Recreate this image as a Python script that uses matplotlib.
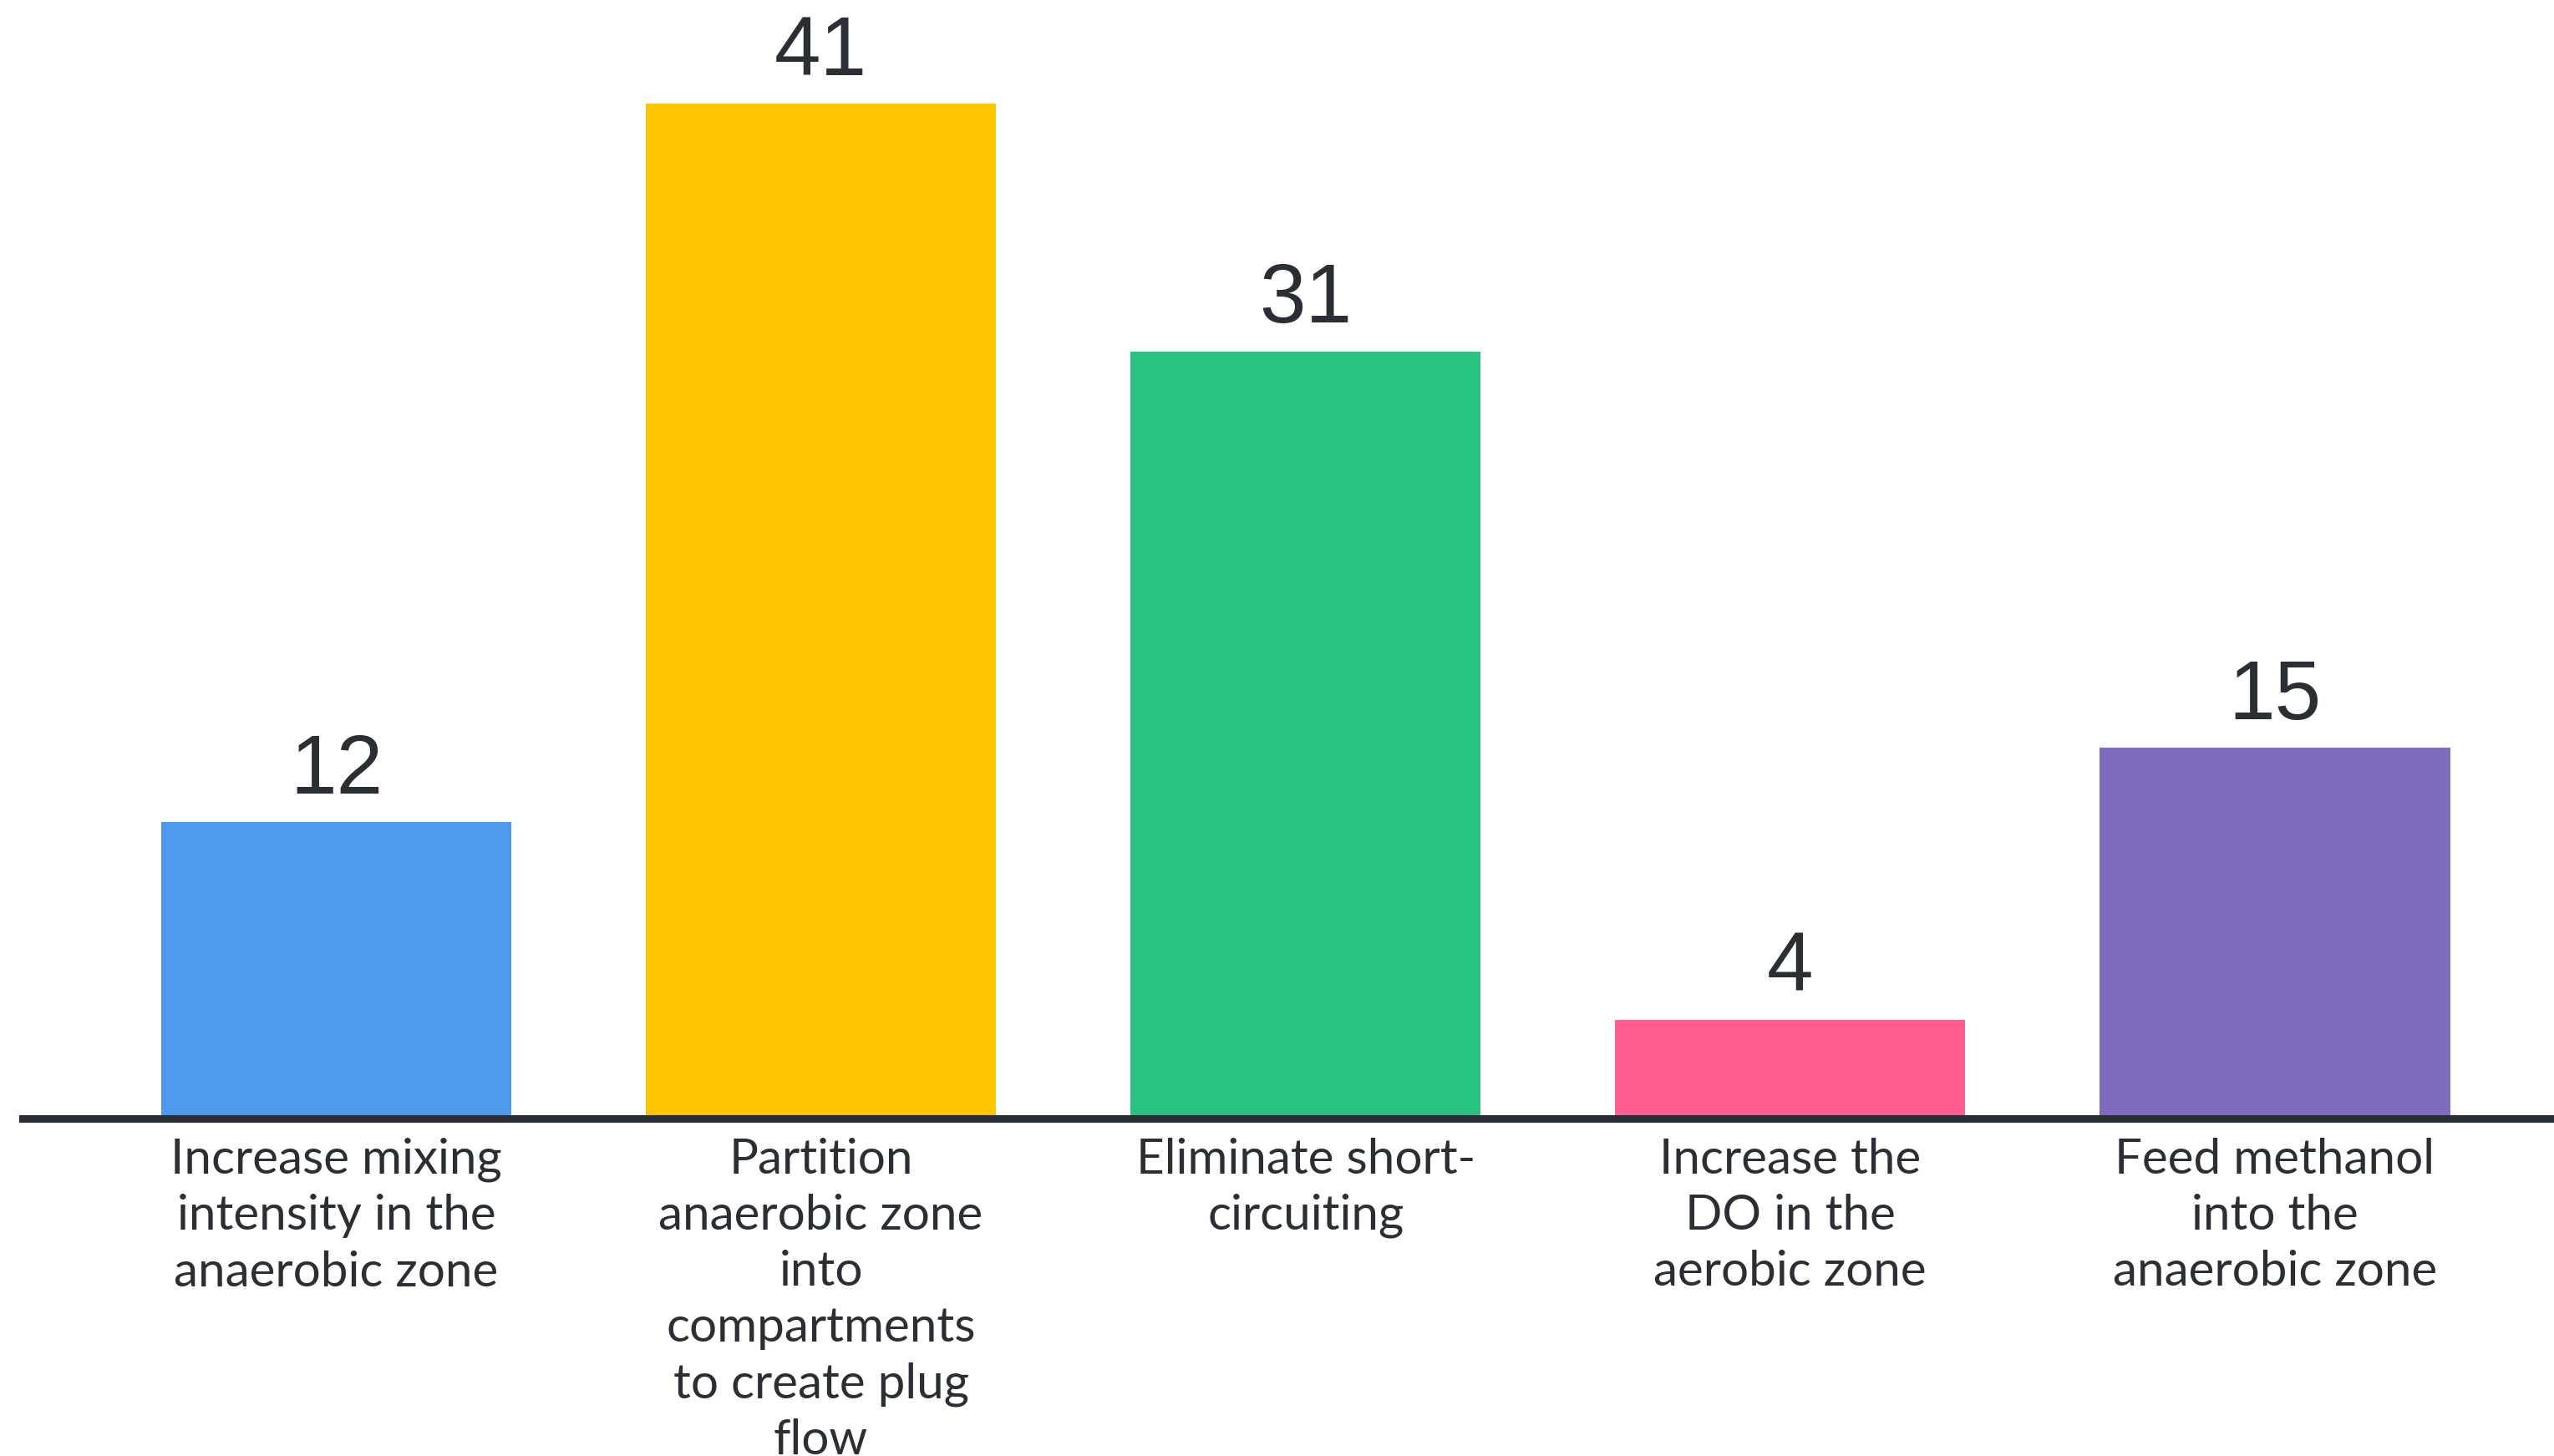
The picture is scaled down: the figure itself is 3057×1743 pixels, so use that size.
import matplotlib
matplotlib.use("Agg")
import matplotlib.pyplot as plt

categories = [
    "Increase mixing\nintensity in the\nanaerobic zone",
    "Partition\nanaerobic zone\ninto\ncompartments\nto create plug\nflow",
    "Eliminate short-\ncircuiting",
    "Increase the\nDO in the\naerobic zone",
    "Feed methanol\ninto the\nanaerobic zone",
]
votes = [12, 41, 31, 4, 15]
colors = ["#4f99ed", "#fdc500", "#29c281", "#ff5c8f", "#7e6abe"]

text_color = "#2a2e35"

fig = plt.figure(figsize=(30.57, 17.43), dpi=100)
ax = fig.add_axes([0.0089, 0.2315, 0.9911, 0.7685])

x = list(range(len(votes)))
bars = ax.bar(x, votes, width=0.723, color=colors, zorder=2)

# vote counts sit just above each bar
for b, v in zip(bars, votes):
    ax.text(b.get_x() + b.get_width() / 2, v + 0.45, str(v),
            ha="center", va="bottom", fontsize=72,
            family="Liberation Sans", color=text_color)

ax.set_xlim(-0.647, 4.576)
ax.set_ylim(0, 45.2)

ax.set_xticks(x)
ax.set_xticklabels(categories, fontsize=42, family="Lato",
                   color=text_color, linespacing=1.33)
ax.tick_params(axis="x", length=0, pad=16)
ax.set_yticks([])

for side in ["top", "right", "left"]:
    ax.spines[side].set_visible(False)
ax.spines["bottom"].set_linewidth(6.5)
ax.spines["bottom"].set_color(text_color)
ax.spines["bottom"].set_zorder(3)

fig.savefig("out.png", dpi=100, facecolor="white")
